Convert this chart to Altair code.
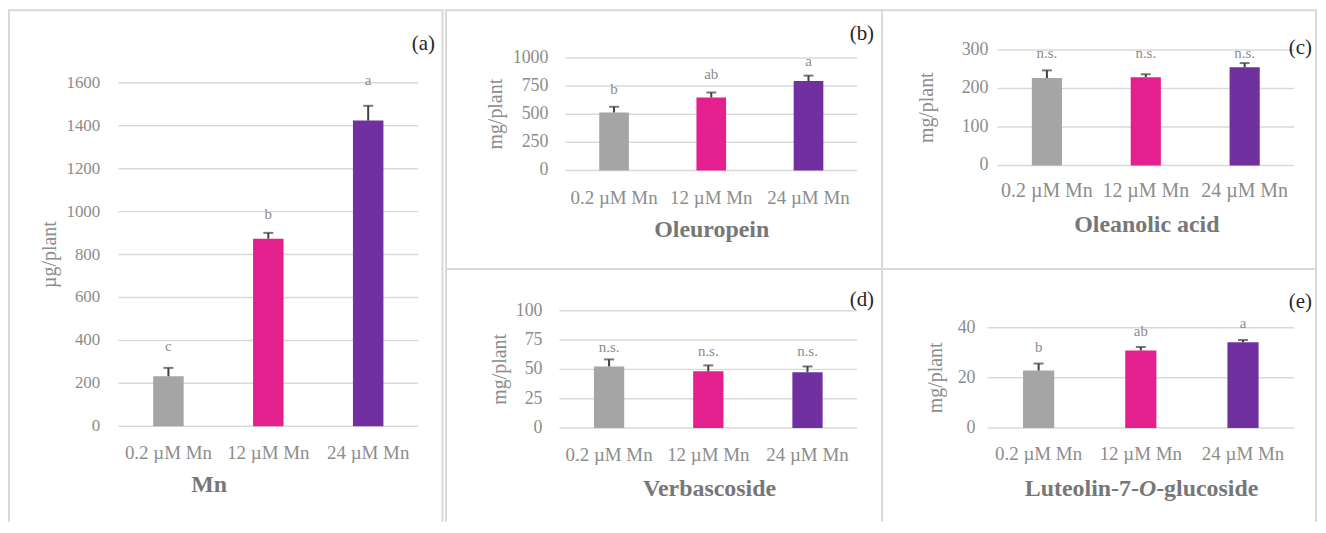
import altair as alt
import pandas as pd

# ---------------- data ----------------
categories = ["0.2 µM Mn", "12 µM Mn", "24 µM Mn"]
bar_colors = ["#A5A5A5", "#E4208E", "#7030A0"]

mn_vals = [233, 874, 1424]
mn_err = [272, 901, 1493]
mn_letters = ["c", "b", "a"]
mn_letter_y = [352, 965, 1591]

oleu_vals = [515, 649, 794]
oleu_err = [566, 693, 843]
oleu_letters = ["b", "ab", "a"]
oleu_letter_y = [681, 814, 929]

olea_vals = [227, 229, 255]
olea_err = [247, 237, 266]
olea_letters = ["n.s.", "n.s.", "n.s."]
olea_letter_y = [280, 280, 280]

verb_vals = [52.5, 48.3, 47.5]
verb_err = [58.5, 53.4, 52.5]
verb_letters = ["n.s.", "n.s.", "n.s."]
verb_letter_y = [64.7, 61.8, 61.8]

lut_vals = [22.9, 30.9, 34.2]
lut_err = [25.7, 32.3, 35.1]
lut_letters = ["b", "ab", "a"]
lut_letter_y = [30.3, 36.5, 39.9]

mn_ticks = [0, 200, 400, 600, 800, 1000, 1200, 1400, 1600]
oleu_ticks = [0, 250, 500, 750, 1000]
olea_ticks = [0, 100, 200, 300]
verb_ticks = [0, 25, 50, 75, 100]
lut_ticks = [0, 20, 40]

# ---------------- style ----------------
FONT = "Liberation Serif"
GRID = "#d9d9d9"
FRAME = "#d9d9d9"
LABEL_C = "#8c8c8c"
TITLE_C = "#777777"
ERR_C = "#404040"
PAD_IN = 0.695
W_ALL, H_ALL = 1316, 515
ONE = [{"k": 1}]


def deco_rect(x1, x2, y1, y2):
    return alt.Chart(alt.Data(values=ONE)).mark_rect(color=FRAME).encode(
        x=alt.value(x1), x2=alt.value(x2), y=alt.value(y1), y2=alt.value(y2))


def deco_text(text, x, y, size, color, align="center", weight="normal",
              style="normal", angle=0, baseline="alphabetic"):
    return alt.Chart(alt.Data(values=ONE)).mark_text(
        font=FONT, fontSize=size, color=color, align=align, baseline=baseline,
        fontWeight=weight, fontStyle=style, angle=angle, text=text,
    ).encode(x=alt.value(x), y=alt.value(y))


def panel(vals, errs, letters, letter_y, ticks, box, ytick_right, ytick_size,
          xlabel_size, xlabel_dy, tag, tag_xy, ytitle, ytitle_x, xtitle_parts):
    x0, x1, y0, y1 = box
    df = pd.DataFrame({"cat": categories, "val": vals, "err": errs,
                       "letter": letters, "ly": letter_y, "col": bar_colors})
    tdf = pd.DataFrame({"t": ticks, "lab": [str(t) for t in ticks]})
    xs = alt.Scale(domain=categories, range=[x0, x1],
                   paddingInner=PAD_IN, paddingOuter=PAD_IN / 2)
    ys = alt.Scale(domain=[ticks[0], ticks[-1]], range=[y1, y0], nice=False)
    X = alt.X("cat:N", scale=xs, axis=None, sort=categories)

    grid = alt.Chart(tdf).mark_rule(color=GRID, strokeWidth=1.5).encode(
        y=alt.Y("t:Q", scale=ys, axis=None), x=alt.value(x0), x2=alt.value(x1))
    ylab = alt.Chart(tdf).mark_text(
        font=FONT, fontSize=ytick_size, color=LABEL_C, align="right", baseline="middle"
    ).encode(y=alt.Y("t:Q", scale=ys, axis=None), x=alt.value(ytick_right), text="lab:N")
    bars = alt.Chart(df).mark_bar().encode(
        x=X, y=alt.Y("val:Q", scale=ys, axis=None), color=alt.Color("col:N", scale=None))
    rule = alt.Chart(df).mark_rule(color=ERR_C, strokeWidth=2).encode(
        x=X, y=alt.Y("val:Q", scale=ys, axis=None), y2="err:Q")
    cap = alt.Chart(df).mark_tick(color=ERR_C, thickness=2, size=10).encode(
        x=X, y=alt.Y("err:Q", scale=ys, axis=None))
    letters_m = alt.Chart(df).mark_text(
        font=FONT, fontSize=15, color=LABEL_C, baseline="alphabetic"
    ).encode(x=X, y=alt.Y("ly:Q", scale=ys, axis=None), text="letter:N")
    xlab = alt.Chart(df).mark_text(
        font=FONT, fontSize=xlabel_size, color=LABEL_C, baseline="alphabetic"
    ).encode(x=X, y=alt.value(y1 + xlabel_dy), text="cat:N")

    layers = [grid, ylab, bars, rule, cap, letters_m, xlab,
              deco_text(tag, tag_xy[0], tag_xy[1], 21, "#262626", align="right"),
              deco_text(ytitle, ytitle_x, (y0 + y1) / 2, 20, LABEL_C, angle=270,
                        baseline="middle")]
    for (txt, px, py, align, style) in xtitle_parts:
        layers.append(deco_text(txt, px, py, 24, TITLE_C, align=align,
                                weight="bold", style=style))
    return alt.layer(*layers)


A = panel(mn_vals, mn_err, mn_letters, mn_letter_y, mn_ticks,
          (111, 412, 74, 419), 92.7, 17, 19, 33, "(a)", (429, 41),
          "µg/plant", 42, [("Mn", 202, 485, "center", "normal")])

B = panel(oleu_vals, oleu_err, oleu_letters, oleu_letter_y, oleu_ticks,
          (560, 853, 49, 162), 543, 18, 19, 34, "(b)", (870, 31),
          "mg/plant", 490, [("Oleuropein", 707, 229, "center", "normal")])

C = panel(olea_vals, olea_err, olea_letters, olea_letter_y, olea_ticks,
          (994, 1292, 41, 157), 985, 18, 20, 32, "(c)", (1310, 45),
          "mg/plant", 923.5, [("Oleanolic acid", 1144, 223.7, "center", "normal")])

D = panel(verb_vals, verb_err, verb_letters, verb_letter_y, verb_ticks,
          (554, 853, 303, 420.7), 537, 18, 19, 33, "(d)", (870, 298),
          "mg/plant", 494, [("Verbascoside", 704.7, 488.7, "center", "normal")])

E = panel(lut_vals, lut_err, lut_letters, lut_letter_y, lut_ticks,
          (984, 1292, 320, 420.7), 972, 18, 19, 32, "(e)", (1310, 300),
          "mg/plant", 932, [("Luteolin-7-", 1136.1, 488.7, "right", "normal"),
                            ("O", 1144.8, 488.7, "center", "italic"),
                            ("-glucoside", 1153.4, 488.7, "left", "normal")])

frames = [
    # panel (a)
    deco_rect(0, 2, 0, H_ALL), deco_rect(0, 437.5, 0, 2), deco_rect(435.5, 437.5, 0, H_ALL),
    # panels (b)/(c)
    deco_rect(439, 441, 0, H_ALL), deco_rect(439, 1315, 0, 2),
    deco_rect(877, 879, 0, H_ALL), deco_rect(1313, 1315, 0, H_ALL),
    # divider between top and bottom rows
    deco_rect(439, 1315, 260, 262),
]

chart = (
    alt.layer(*frames, A, B, C, D, E)
    .resolve_scale(x="independent", y="independent")
    .properties(width=W_ALL, height=H_ALL, padding=0,
                autosize=alt.AutoSizeParams(type="none"))
    .configure_view(strokeWidth=0)
)

chart.save("out.html", embed_options={"renderer": "svg", "actions": False})
